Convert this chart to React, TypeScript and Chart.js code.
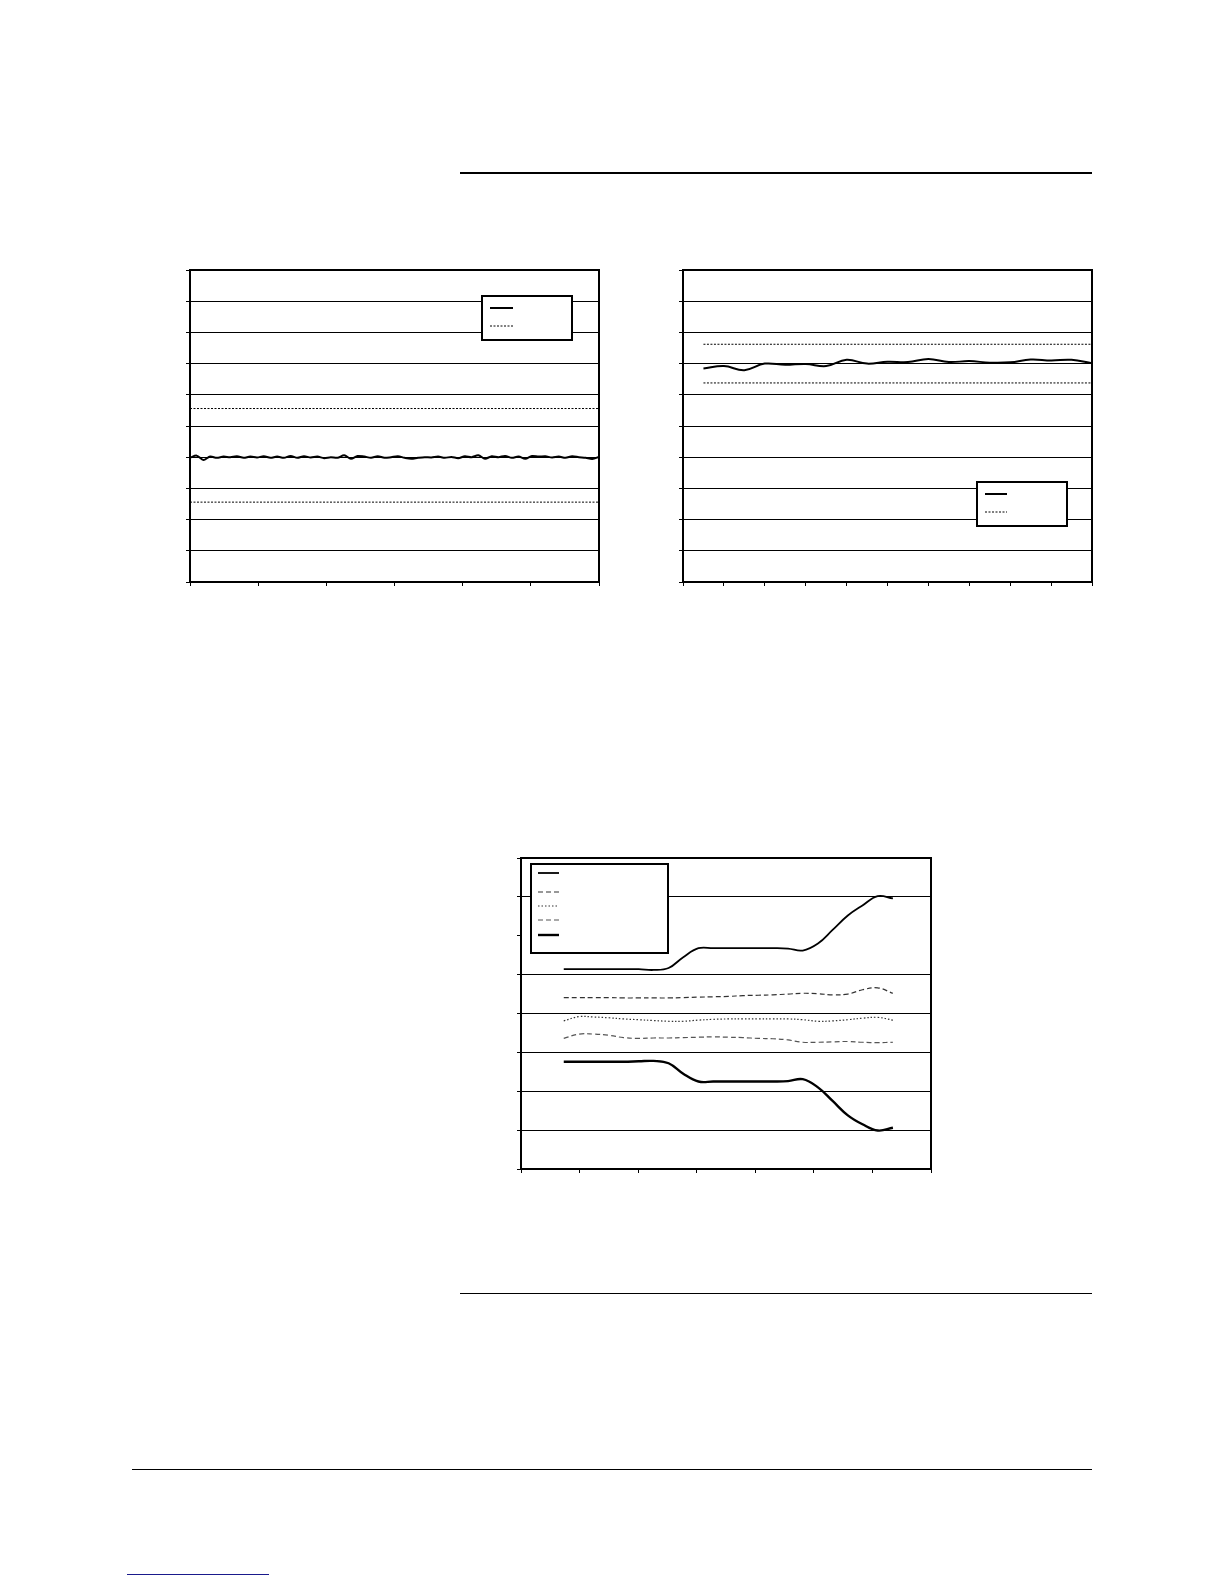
import { useEffect, useRef } from "react"
import { Chart, registerables } from "chart.js"

Chart.register(...registerables)

// ---- chart 1 (top left): noisy signal between two limits ----
const signalA = [
  3.98, 4.05, 3.91, 4.02, 3.98, 4.02, 4.0, 4.03, 3.98, 4.02, 3.99, 4.03, 3.98, 4.02, 3.98, 4.04,
  3.98, 4.03, 3.99, 4.02, 3.97, 4.0, 3.98, 4.06, 3.95, 4.04, 4.02, 3.98, 4.03, 3.98, 4.0, 4.03,
  3.98, 3.95, 3.98, 4.0, 3.99, 4.02, 3.98, 4.01, 3.97, 4.03, 4.0, 4.06, 3.95, 4.03, 4.0, 4.04,
  3.98, 4.02, 3.95, 4.04, 4.02, 4.03, 3.99, 4.02, 3.98, 4.03, 4.0, 3.98, 3.94, 4.01,
]
const limitsA = [5.56, 2.56]

// ---- chart 2 (top right): signal between two limits ----
const samplesB = [0.5, 1, 1.5, 2, 2.5, 3, 3.5, 4, 4.5, 5, 5.5, 6, 6.5, 7, 7.5, 8, 8.5, 9, 9.5, 10]
const signalB = [
  6.84, 6.92, 6.79, 7.0, 6.96, 6.99, 6.92, 7.12, 7.0, 7.06, 7.05, 7.15, 7.05, 7.08, 7.03, 7.04,
  7.13, 7.1, 7.12, 7.01,
]
const limitsB = [7.62, 6.38]

// ---- chart 3 (middle): five series ----
const periodsC = [
  0.73, 0.99, 1.24, 1.5, 1.75, 2.01, 2.26, 2.52, 2.77, 3.03, 3.28, 3.54, 3.79, 4.05, 4.3, 4.56,
  4.81, 5.07, 5.32, 5.58, 5.83, 6.09, 6.35,
]
const upperC = [
  5.14, 5.14, 5.14, 5.14, 5.14, 5.14, 5.12, 5.17, 5.45, 5.68, 5.68, 5.68, 5.68, 5.68, 5.68, 5.67,
  5.62, 5.8, 6.15, 6.52, 6.78, 7.02, 6.96,
]
const dashHighC = [
  4.41, 4.41, 4.41, 4.41, 4.4, 4.4, 4.4, 4.4, 4.41, 4.42, 4.43, 4.44, 4.46, 4.47, 4.48, 4.5,
  4.52, 4.51, 4.48, 4.5, 4.61, 4.66, 4.52,
]
const dottedC = [
  3.81, 3.92, 3.91, 3.89, 3.86, 3.84, 3.82, 3.8, 3.8, 3.83, 3.85, 3.86, 3.86, 3.86, 3.86, 3.86,
  3.84, 3.8, 3.81, 3.84, 3.88, 3.9, 3.83,
]
const dashLowC = [
  3.36, 3.47, 3.47, 3.44, 3.38, 3.36, 3.37, 3.37, 3.38, 3.39, 3.4, 3.39, 3.38, 3.36, 3.35, 3.32,
  3.26, 3.26, 3.27, 3.28, 3.26, 3.25, 3.26,
]
const lowerC = [
  2.76, 2.76, 2.76, 2.76, 2.76, 2.77, 2.78, 2.72, 2.45, 2.25, 2.25, 2.25, 2.25, 2.25, 2.25, 2.26,
  2.31, 2.1, 1.75, 1.38, 1.15, 0.99, 1.06,
]

const PAD = 12
const TICK = 4

const pairs = (xs: number[], ys: number[]) => xs.map((x, i) => ({ x, y: ys[i] }))

// black frame round the plot area
const framePlugin = {
  id: "frame",
  afterDraw(chart: any) {
    const { ctx, chartArea: a } = chart
    ctx.save()
    ctx.strokeStyle = "#000"
    ctx.lineWidth = 2
    ctx.strokeRect(a.left, a.top, a.right - a.left, a.bottom - a.top)
    ctx.restore()
  },
}

// boxed legend with line samples only
const boxLegendPlugin = {
  id: "boxLegend",
  afterDatasetsDraw(chart: any, _args: any, opts: any) {
    if (!opts || !opts.box) return
    const { ctx } = chart
    const [bx, by, bw, bh] = opts.box
    ctx.save()
    ctx.fillStyle = "#fff"
    ctx.fillRect(bx, by, bw, bh)
    ctx.strokeStyle = "#000"
    ctx.lineWidth = 2
    ctx.strokeRect(bx, by, bw, bh)
    opts.items.forEach((dsIndex: number, i: number) => {
      const ds = chart.data.datasets[dsIndex]
      ctx.beginPath()
      ctx.strokeStyle = ds.borderColor
      ctx.lineWidth = ds.borderWidth
      ctx.setLineDash(ds.borderDash || [])
      ctx.moveTo(opts.lineX[0], opts.rows[i])
      ctx.lineTo(opts.lineX[1], opts.rows[i])
      ctx.stroke()
    })
    ctx.restore()
  },
}

interface FrameChartProps {
  left: number
  top: number
  width: number
  height: number
  xMax: number
  yMax: number
  datasets: any[]
  legendBox: number[]
  legendLineX: number[]
  legendRows: number[]
  legendItems: number[]
  hiddenGrid?: number[]
}

function FrameChart(props: FrameChartProps) {
  const chartRef = useRef<HTMLCanvasElement>(null)
  const chartInstance = useRef<Chart | null>(null)

  const canvasLeft = props.left - PAD - TICK
  const canvasTop = props.top - PAD
  const canvasW = props.width + PAD * 2 + TICK
  const canvasH = props.height + PAD * 2 + TICK

  useEffect(() => {
    if (!chartRef.current) return
    if (chartInstance.current) chartInstance.current.destroy()
    const ctx = chartRef.current.getContext("2d")
    if (!ctx) return

    const hidden = props.hiddenGrid || []
    const [bx, by, bw, bh] = props.legendBox

    chartInstance.current = new Chart(ctx, {
      type: "line",
      data: { datasets: props.datasets },
      options: {
        animation: false,
        responsive: false,
        layout: { padding: PAD },
        elements: { point: { radius: 0 } },
        plugins: {
          legend: { display: false },
          tooltip: { enabled: false },
          boxLegend: {
            box: [bx - canvasLeft, by - canvasTop, bw, bh],
            lineX: props.legendLineX.map((x) => x - canvasLeft),
            rows: props.legendRows.map((y) => y - canvasTop),
            items: props.legendItems,
          },
        } as any,
        scales: {
          x: {
            type: "linear",
            min: 0,
            max: props.xMax,
            ticks: { display: false, stepSize: 1 },
            grid: { drawOnChartArea: false, tickLength: TICK, tickColor: "#000", tickWidth: 1 },
            border: { display: false },
          },
          y: {
            type: "linear",
            min: 0,
            max: props.yMax,
            ticks: { display: false, stepSize: 1 },
            grid: {
              color: (c: any) => (c.tick && hidden.includes(c.tick.value) ? "rgba(0,0,0,0)" : "#000"),
              lineWidth: 1,
              tickLength: TICK,
              tickColor: "#000",
              tickWidth: 1,
            },
            border: { display: false },
          },
        },
      },
      plugins: [framePlugin, boxLegendPlugin],
    })

    return () => {
      if (chartInstance.current) {
        chartInstance.current.destroy()
        chartInstance.current = null
      }
    }
  }, [])

  return (
    <div style={{ position: "absolute", left: canvasLeft, top: canvasTop, width: canvasW, height: canvasH }}>
      <canvas ref={chartRef} width={canvasW} height={canvasH} style={{ width: canvasW, height: canvasH }} />
    </div>
  )
}

function Rule({ left, top, width, height, color = "#000" }: { left: number; top: number; width: number; height: number; color?: string }) {
  return <div style={{ position: "absolute", left, top, width, height, background: color }} />
}

export default function App() {
  const stepA = 6 / (signalA.length - 1)
  const xsA = signalA.map((_, i) => i * stepA)

  const datasetsA = [
    { data: pairs(xsA, signalA), borderColor: "#000", borderWidth: 2, tension: 0.3, fill: false },
    { data: [{ x: 0, y: limitsA[0] }, { x: 6, y: limitsA[0] }], borderColor: "#000", borderWidth: 1, borderDash: [2, 1.5] },
    { data: [{ x: 0, y: limitsA[1] }, { x: 6, y: limitsA[1] }], borderColor: "#000", borderWidth: 1, borderDash: [2, 1.5] },
  ]

  const firstB = samplesB[0]
  const lastB = samplesB[samplesB.length - 1]
  const datasetsB = [
    { data: pairs(samplesB, signalB), borderColor: "#000", borderWidth: 2, tension: 0.4, fill: false },
    { data: [{ x: firstB, y: limitsB[0] }, { x: lastB, y: limitsB[0] }], borderColor: "#000", borderWidth: 1, borderDash: [2, 1.5] },
    { data: [{ x: firstB, y: limitsB[1] }, { x: lastB, y: limitsB[1] }], borderColor: "#000", borderWidth: 1, borderDash: [2, 1.5] },
  ]

  const datasetsC = [
    { data: pairs(periodsC, upperC), borderColor: "#000", borderWidth: 1.8, tension: 0.4 },
    { data: pairs(periodsC, dashHighC), borderColor: "#333", borderWidth: 1.2, borderDash: [5, 3], tension: 0.4 },
    { data: pairs(periodsC, dottedC), borderColor: "#333", borderWidth: 1.2, borderDash: [1.5, 2], tension: 0.4 },
    { data: pairs(periodsC, dashLowC), borderColor: "#555", borderWidth: 1.2, borderDash: [5, 3], tension: 0.4 },
    { data: pairs(periodsC, lowerC), borderColor: "#000", borderWidth: 2.4, tension: 0.4 },
  ]

  return (
    <div style={{ position: "absolute", left: 0, top: 0, width: 1224, height: 1584, background: "#fff" }}>
      <Rule left={460} top={172} width={632} height={2} />

      <FrameChart
        left={190}
        top={270}
        width={409}
        height={312}
        xMax={6}
        yMax={10}
        datasets={datasetsA}
        legendBox={[482, 296, 90, 44]}
        legendLineX={[490, 513]}
        legendRows={[308, 326]}
        legendItems={[0, 1]}
      />

      <FrameChart
        left={683}
        top={270}
        width={409}
        height={312}
        xMax={10}
        yMax={10}
        datasets={datasetsB}
        legendBox={[977, 482, 90, 44]}
        legendLineX={[985, 1007]}
        legendRows={[494, 512]}
        legendItems={[0, 1]}
      />

      <FrameChart
        left={521}
        top={858}
        width={410}
        height={311}
        xMax={7}
        yMax={8}
        datasets={datasetsC}
        legendBox={[531, 864, 137, 89]}
        legendLineX={[538, 559]}
        legendRows={[873, 892, 906, 920, 935]}
        legendItems={[0, 1, 2, 3, 4]}
        hiddenGrid={[6]}
      />

      <Rule left={460} top={1293} width={632} height={1} />
      <Rule left={132} top={1469} width={960} height={1} />
      <Rule left={127} top={1574} width={142} height={1} color="#1a1a8c" />
    </div>
  )
}
